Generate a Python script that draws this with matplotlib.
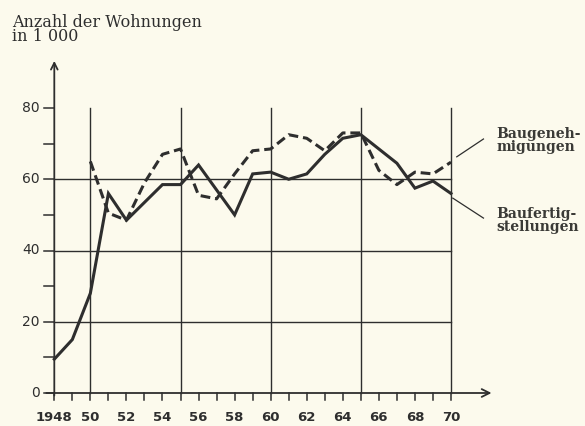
import matplotlib
matplotlib.use("Agg")
import matplotlib.pyplot as plt

# ---- data ----
years_fertig = list(range(1948, 1971))
baufertig = [9.5, 15, 28, 56, 48.5, 53.5, 58.5, 58.5, 64, 57, 50, 61.5, 62, 60,
             61.5, 67, 71.5, 72.5, 68.5, 64.5, 57.5, 59.5, 56]
years_gen = list(range(1950, 1971))
baugen = [65, 50.5, 48.5, 59, 67, 68.5, 55.5, 54.5, 61.5, 68, 68.5, 72.5, 71.5,
          68, 73, 73, 62.5, 58.5, 62, 61.5, 64.8]
ytick_vals = [0, 20, 40, 60, 80]
ytick_labels = ["0", "20", "40", "60", "80"]
xtick_vals = list(range(1948, 1971, 2))
xtick_labels = ["1948"] + [str(y % 100) for y in range(1950, 1971, 2)]
title = "Anzahl der Wohnungen\nin 1 000"
label_gen = "Baugeneh-\nmigungen"
label_fertig = "Baufertig-\nstellungen"

bg = "#fcfaed"
ink = "#2e2e2e"

W, H = 585, 426
fig = plt.figure(figsize=(W / 100, H / 100), dpi=100, facecolor=bg)
x0, x1 = 54.3, 451.0
y0, y1 = 393.0, 108.0
ax = fig.add_axes([x0 / W, (H - y0) / H, (x1 - x0) / W, (y0 - y1) / H])
ax.set_facecolor(bg)
ax.set_xlim(1948, 1970)
ax.set_ylim(0, 80)
for s in ax.spines.values():
    s.set_visible(False)
ax.set_xticks([])
ax.set_yticks([])

# grid
for xv in [1950, 1955, 1960, 1965, 1970]:
    ax.plot([xv, xv], [0, 80], color=ink, lw=1.0, clip_on=False, zorder=1)
for yv in [20, 40, 60]:
    ax.plot([1948, 1970], [yv, yv], color=ink, lw=1.0, clip_on=False, zorder=1)

# axes with arrows
ax.annotate("", xy=(1972.4, 0), xytext=(1947.4, 0),
            arrowprops=dict(arrowstyle="->", color=ink, lw=1.3,
                            mutation_scale=14), annotation_clip=False)
ax.annotate("", xy=(1948, 94), xytext=(1948, -1.5),
            arrowprops=dict(arrowstyle="->", color=ink, lw=1.3,
                            mutation_scale=12), annotation_clip=False)

# y ticks
for yv in range(0, 81, 10):
    ax.plot([1947.45, 1948], [yv, yv], color=ink, lw=1.1, clip_on=False)
for yv, lab in zip(ytick_vals, ytick_labels):
    ax.text(1947.2, yv, lab, ha="right", va="center", fontsize=10,
            color=ink, family="DejaVu Sans")

# x ticks
for xv in range(1948, 1971):
    ax.plot([xv, xv], [0, -2.0], color=ink, lw=1.1, clip_on=False)
for xv, lab in zip(xtick_vals, xtick_labels):
    ax.text(xv, -7.0, lab, ha="center", va="center", fontsize=9.5,
            color=ink, family="DejaVu Sans", fontweight="bold")

# data lines
ax.plot(years_fertig, baufertig, color=ink, lw=2.2, solid_joinstyle="miter",
        clip_on=False, zorder=3)
ax.plot(years_gen, baugen, color=ink, lw=2.2, dashes=(3.2, 1.6),
        clip_on=False, zorder=3)

# leader lines and labels
ax.plot([1970.32, 1971.8], [66.3, 71.3], color=ink, lw=0.9, clip_on=False)
ax.plot([1970.1, 1971.8], [54.7, 49.1], color=ink, lw=0.9, clip_on=False)
ax.text(1972.5, 71.0, label_gen, ha="left", va="center", fontsize=10,
        color="#3a3a36", family="DejaVu Serif", fontweight="bold",
        linespacing=0.9)
ax.text(1972.5, 48.3, label_fertig, ha="left", va="center", fontsize=10,
        color="#3a3a36", family="DejaVu Serif", fontweight="bold",
        linespacing=0.9)

# title
fig.text(12 / W, 1 - 14 / H, title, ha="left", va="top", fontsize=11.5,
         color=ink, family="DejaVu Serif", linespacing=0.8)

fig.savefig("out.png", dpi=100, facecolor=bg)
